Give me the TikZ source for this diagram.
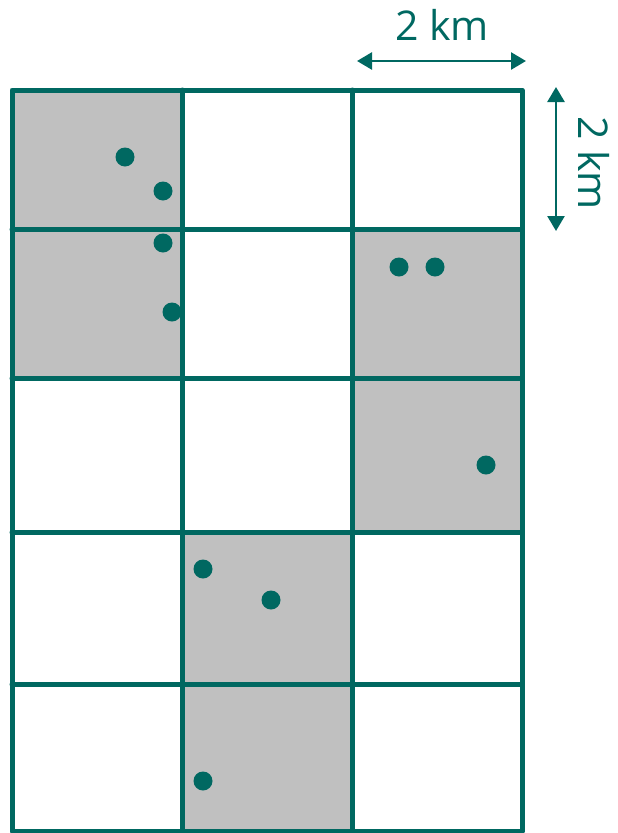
\documentclass[tikz,border=0pt]{standalone}
\usepackage{fontspec}
\setmainfont{Open Sans}
\usetikzlibrary{arrows.meta}
\definecolor{teal0}{HTML}{006861}
\definecolor{cellgray}{HTML}{C0C0C0}
\tikzset{
  gridline/.style={draw=teal0, line width=5pt, line join=round, line cap=round},
  shaded/.style={fill=cellgray},
  dot/.style={fill=teal0},
  dimarrow/.style={draw=teal0, line width=2.6pt, {Triangle[length=15pt,width=17pt]}-{Triangle[length=15pt,width=17pt]}},
  dimlabel/.style={text=teal0, font=\fontsize{41}{48}\selectfont, inner sep=0pt}
}
\begin{document}
\begin{tikzpicture}[x=1pt,y=-1pt]
\useasboundingbox (0,0) rectangle (618,833);
% column and row positions
\def\xa{12}\def\xb{182}\def\xc{352}\def\xd{522}
\def\ya{90}\def\yb{229}\def\yc{378}\def\yd{532}\def\ye{684}\def\yf{831}
% shaded cells
\fill[shaded] (\xa,\ya) rectangle (\xb,\yb);
\fill[shaded] (\xa,\yb) rectangle (\xb,\yc);
\fill[shaded] (\xc,\yb) rectangle (\xd,\yc);
\fill[shaded] (\xc,\yc) rectangle (\xd,\yd);
\fill[shaded] (\xb,\yd) rectangle (\xc,\ye);
\fill[shaded] (\xb,\ye) rectangle (\xc,\yf);
% grid
\draw[gridline] (\xa,\ya) rectangle (\xd,\yf);
\foreach \x in {\xb,\xc} \draw[gridline] (\x,\ya) -- (\x,\yf);
\foreach \y in {\yb,\yc,\yd,\ye} \draw[gridline] (\xa,\y) -- (\xd,\y);
% dots
\foreach \p in {(125,157),(163,191),(163,243),(172,312),(399,267),(435,267),(486,465),(203,569),(271,600),(203,781)}
  \fill[dot] \p circle (9.5);
% dimension arrows
\coordinate (hl) at (357,61);
\coordinate (hr) at (526,61);
\coordinate (vt) at (556,87);
\coordinate (vb) at (556,231);
\draw[dimarrow] (hl) -- (hr);
\draw[dimarrow] (vt) -- (vb);
\node[dimlabel] (hlab) at (442,25) {2 km};
\node[dimlabel, rotate=-90] (vlab) at (594,163) {2 km};
\end{tikzpicture}
\end{document}
